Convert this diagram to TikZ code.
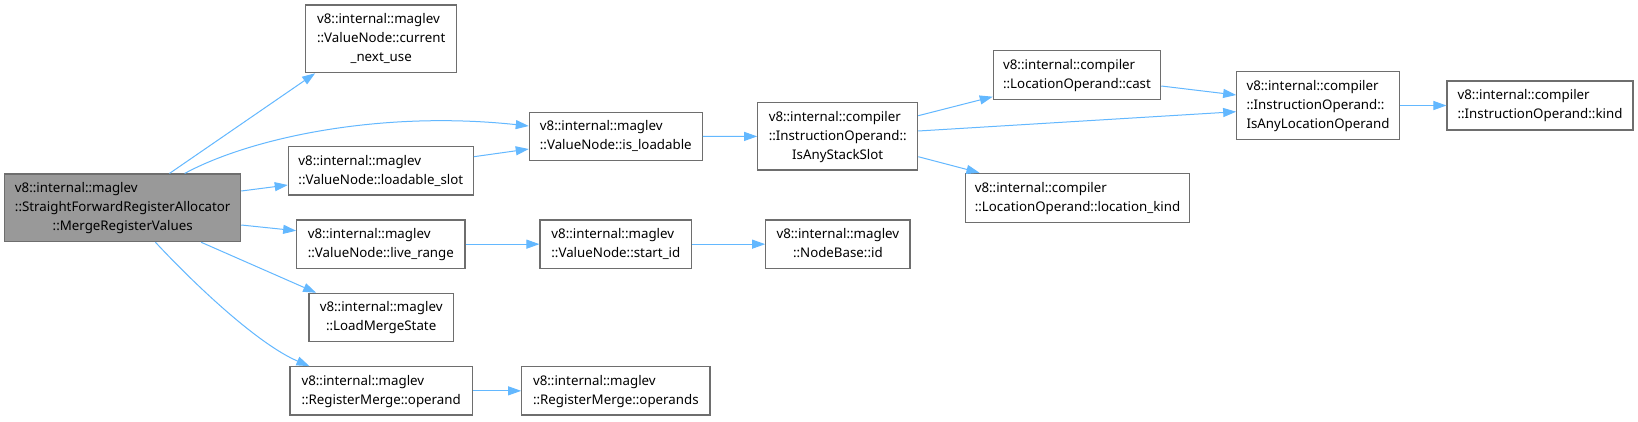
\documentclass[tikz,border=0pt]{standalone}
\usepackage{fontspec}
\setmainfont{Noto Sans}
\usetikzlibrary{arrows.meta,calc}
\definecolor{edgeblue}{HTML}{63B8FF}
\definecolor{boxline}{HTML}{6E6E6E}
\definecolor{mainfill}{HTML}{999999}
\newcommand\ctrline[1]{\multicolumn{1}{@{}c@{}}{#1}}
\newcommand\txt[1]{\begin{tabular}{@{}l@{}}#1\end{tabular}}
\begin{document}
\begin{tikzpicture}[x=1pt,y=-1pt,
  box/.style={draw=boxline,line width=1.1pt,fill=white,inner sep=0pt,
    font=\fontsize{13.3}{19}\selectfont},
  conn/.style={draw=edgeblue,line width=1pt,-{Triangle[length=13pt,width=9pt]}}]
\useasboundingbox[fill=white] (0,0) rectangle (1638,421);
% nodes
\node[box,fill=mainfill,minimum width=236pt,minimum height=67.7pt] (main) at (122.7,207.85)
  {\txt{v8::internal::maglev\\::StraightForwardRegisterAllocator\\\ctrline{::MergeRegisterValues}}};
\node[box,minimum width=151pt,minimum height=67.7pt] (cur) at (381.2,38.85)
  {\txt{v8::internal::maglev\\::ValueNode::current\\\ctrline{\_next\_use}}};
\node[box,minimum width=173pt,minimum height=48.4pt] (isl) at (615.8,136.5)
  {\txt{v8::internal::maglev\\\ctrline{::ValueNode::is\_loadable}}};
\node[box,minimum width=185pt,minimum height=48.3pt] (lslot) at (380.8,170.85)
  {\txt{v8::internal::maglev\\\ctrline{::ValueNode::loadable\_slot}}};
\node[box,minimum width=168.3pt,minimum height=48.3pt] (lrange) at (380.85,244.15)
  {\txt{v8::internal::maglev\\\ctrline{::ValueNode::live\_range}}};
\node[box,minimum width=144.3pt,minimum height=48.4pt] (lms) at (381.15,317.5)
  {\txt{v8::internal::maglev\\\ctrline{::LoadMergeState}}};
\node[box,minimum width=182.3pt,minimum height=48.3pt] (opd) at (381.15,390.85)
  {\txt{v8::internal::maglev\\\ctrline{::RegisterMerge::operand}}};
\node[box,minimum width=188.3pt,minimum height=48.3pt] (opds) at (615.85,390.85)
  {\txt{v8::internal::maglev\\\ctrline{::RegisterMerge::operands}}};
\node[box,minimum width=160pt,minimum height=67.3pt] (iass) at (837.7,136.35)
  {\txt{v8::internal::compiler\\::InstructionOperand::\\\ctrline{IsAnyStackSlot}}};
\node[box,minimum width=151.7pt,minimum height=48.3pt] (sid) at (615.85,244.15)
  {\txt{v8::internal::maglev\\\ctrline{::ValueNode::start\_id}}};
\node[box,minimum width=144.3pt,minimum height=48.3pt] (nid) at (837.85,244.15)
  {\txt{v8::internal::maglev\\\ctrline{::NodeBase::id}}};
\node[box,minimum width=167.4pt,minimum height=48.6pt] (cast) at (1077,75)
  {\txt{v8::internal::compiler\\\ctrline{::LocationOperand::cast}}};
\node[box,minimum width=223.6pt,minimum height=49pt] (lkind) at (1077.5,197.8)
  {\txt{v8::internal::compiler\\\ctrline{::LocationOperand::location\_kind}}};
\node[box,minimum width=162.6pt,minimum height=67.6pt] (ialo) at (1318,105.5)
  {\txt{v8::internal::compiler\\::InstructionOperand::\\\ctrline{IsAnyLocationOperand}}};
\node[box,minimum width=186pt,minimum height=49pt] (kind) at (1540,105.5)
  {\txt{v8::internal::compiler\\\ctrline{::InstructionOperand::kind}}};
% connectors
\draw[conn] ($(main.north west)+(165.3,0)$) -- ($(cur.south west)+(10,0)$);
\draw[conn] ($(main.north west)+(180.5,0)$) .. controls (250,138) and (380,110) .. ($(isl.west)+(0,-10.5)$);
\draw[conn] ($(main.east)+(0,-16.85)$) -- ($(lslot.west)+(0,14.15)$);
\draw[conn] ($(lslot.east)+(0,-14.15)$) -- ($(isl.west)+(0,12.5)$);
\draw[conn] ($(main.east)+(0,17.15)$) -- ($(lrange.west)+(0,-13.45)$);
\draw[conn] ($(main.south west)+(197,0)$) -- ($(lms.north west)+(7.7,0)$);
\draw[conn] ($(main.south west)+(151.3,0)$) .. controls (200,290) and (260,345) .. ($(opd.north west)+(20,0)$);
\draw[conn] (lrange) -- (sid);
\draw[conn] (sid) -- (nid);
\draw[conn] (opd) -- (opds);
\draw[conn] (isl) -- (iass);
\draw[conn] ($(iass.east)+(0,-20.65)$) -- ($(cast.west)+(0,21.7)$);
\draw[conn] ($(iass.east)+(0,-5.35)$) -- ($(ialo.west)+(0,6.2)$);
\draw[conn] ($(iass.east)+(0,20.35)$) -- ($(lkind.north west)+(14.3,0)$);
\draw[conn] ($(cast.east)+(0,11)$) -- ($(ialo.west)+(0,-10.5)$);
\draw[conn] (ialo) -- (kind);
\end{tikzpicture}
\end{document}
